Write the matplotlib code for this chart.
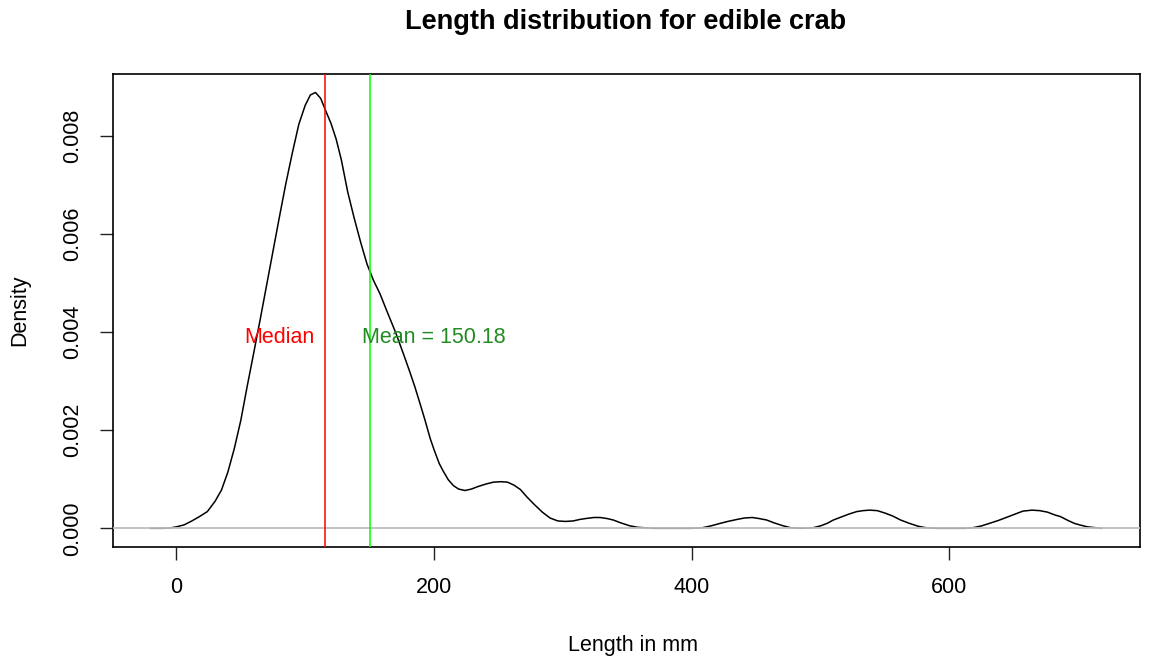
import numpy as np
import matplotlib
matplotlib.use("Agg")
import matplotlib.pyplot as plt

plt.rcParams['font.family'] = ['Liberation Sans', 'DejaVu Sans']

# kernel density estimate of crab lengths (mm)
length_mm = [-20, -10, -5, 0, 6, 12, 18, 24, 30, 35, 40, 45, 50, 55, 60, 65, 70,
             75, 80, 85, 90, 95, 100, 104, 108, 112, 116, 120, 124, 128, 133,
             138, 143, 148, 153, 158, 163, 170, 176, 181, 185, 189, 193, 197,
             200, 204, 207, 211, 215, 219, 224, 229, 234, 240, 246, 252, 257,
             262, 267, 272, 278, 284, 290, 296, 302, 308, 313, 318, 324, 329,
             334, 339, 345, 352, 358, 364, 370, 400, 408, 415, 422, 428, 435,
             441, 447, 452, 458, 464, 471, 477, 485, 494, 500, 505, 510, 516,
             522, 528, 533, 538, 544, 550, 556, 562, 569, 576, 582, 590, 612,
             618, 625, 631, 638, 644, 651, 657, 664, 670, 676, 682, 686, 692,
             697, 701, 707, 714, 718]
density = [0.0, 0.0, 0.000005, 0.00003, 0.00007, 0.00015, 0.00024, 0.00034,
           0.00055, 0.00078, 0.00115, 0.00163, 0.00220, 0.00290, 0.00357,
           0.00425, 0.00495, 0.00565, 0.00635, 0.00703, 0.00765, 0.00823,
           0.00862, 0.00883, 0.00888, 0.00876, 0.00850, 0.00825, 0.00793,
           0.00751, 0.00685, 0.00632, 0.00583, 0.00538, 0.00505, 0.00478,
           0.00445, 0.00400, 0.00357, 0.00320, 0.00289, 0.00255, 0.00220,
           0.00183, 0.00160, 0.00132, 0.00117, 0.00099, 0.00087, 0.00080,
           0.00077, 0.00080, 0.00085, 0.00090, 0.00094, 0.00095, 0.00094,
           0.00088, 0.00079, 0.00064, 0.00048, 0.00033, 0.00021, 0.00015,
           0.00014, 0.00015, 0.00018, 0.00020, 0.00022, 0.00022, 0.00020,
           0.00017, 0.00011, 0.00005, 0.00002, 0.00001, 0.0, 0.0, 0.00001,
           0.00005, 0.00010, 0.00014, 0.00018, 0.00021, 0.00022, 0.00020,
           0.00017, 0.00011, 0.00005, 0.00001, 0.0, 0.00001, 0.00005, 0.00010,
           0.00017, 0.00023, 0.00029, 0.00034, 0.00036, 0.00037, 0.00036,
           0.00031, 0.00025, 0.00017, 0.00010, 0.00004, 0.00001, 0.0, 0.0,
           0.00001, 0.00005, 0.00010, 0.00016, 0.00022, 0.00029, 0.00035,
           0.00037, 0.00036, 0.00033, 0.00027, 0.00024, 0.00016, 0.00010,
           0.00007, 0.00003, 0.00001, 0.0]

median_len = 115.7
mean_len = 150.18

x_ticks = [0, 200, 400, 600]
y_ticks = [0.000, 0.002, 0.004, 0.006, 0.008]

fig = plt.figure(figsize=(11.5, 6.62), dpi=100)
ax = fig.add_axes([113 / 1150, 1 - 547 / 662, (1140 - 113) / 1150, (547 - 73.5) / 662])

ax.plot(length_mm, density, color='black', lw=1.1, zorder=2)
# zero line drawn over the curve, as the density plot does
ax.axhline(0, color='#BEBEBE', lw=1.3, zorder=3)
ax.axvline(median_len, color='#FF0000', lw=1.1, zorder=4)
ax.axvline(mean_len, color='#00FF00', lw=1.1, zorder=4)

ax.text(80, 0.00378, 'Median', color='#FF0000', fontsize=15.5,
        ha='center', va='baseline', zorder=5)
ax.text(200, 0.00378, 'Mean = %.2f' % mean_len, color='#228B22', fontsize=15.5,
        ha='center', va='baseline', zorder=5)

ax.set_xlim(-49.2, 747.9)
ax.set_ylim(-0.000381, 0.009267)
ax.set_xticks(x_ticks)
ax.set_xticklabels([str(v) for v in x_ticks])
ax.set_yticks(y_ticks)
ax.set_yticklabels(['%.3f' % v for v in y_ticks], rotation=90, va='center')
ax.tick_params(length=9.5, width=1.0, labelsize=15.5, pad=12, color='#222222')
for s in ax.spines.values():
    s.set_linewidth(1.2)

fig.text(626 / 1150, 1 - 29 / 662, 'Length distribution for edible crab',
         ha='center', va='baseline', fontsize=19.5, fontweight='bold')
fig.text(633 / 1150, 1 - 651.5 / 662, 'Length in mm', ha='center',
         va='baseline', fontsize=15.5)
fig.text(20 / 1150, 1 - 310 / 662, 'Density', ha='center', va='center',
         rotation=90, fontsize=15.5)

fig.savefig('out.png', dpi=100)
